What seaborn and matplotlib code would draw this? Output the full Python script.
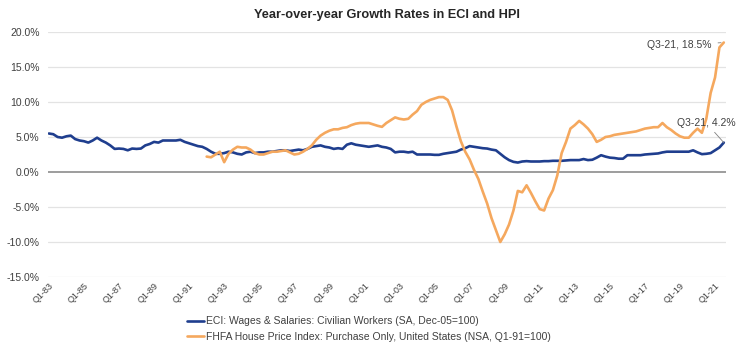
import numpy as np
import pandas as pd
import seaborn as sns
import matplotlib.pyplot as plt

# quarterly labels Q1-83 .. Q3-21
quarters = [f"Q{q}-{y % 100:02d}" for y in range(1983, 2022) for q in range(1, 5)][:155]

# ECI: Wages & Salaries, civilian workers, y/y % (Q1-83 .. Q3-21)
eci = [5.5, 5.4, 5.0, 4.9,  5.1, 5.2, 4.7, 4.5,  4.4, 4.2, 4.5, 4.9,
       4.5, 4.2, 3.8, 3.3,  3.35, 3.3, 3.1, 3.35,  3.3, 3.35, 3.8, 4.0,
       4.3, 4.2, 4.5, 4.5,  4.5, 4.5, 4.6, 4.3,  4.1, 3.9, 3.7, 3.6,
       3.3, 2.9, 2.6, 2.6,  2.7, 2.9, 2.8, 2.6,  2.5, 2.8, 2.9, 2.7,
       2.8, 2.8, 2.9, 2.9,  3.0, 3.1, 3.1, 3.0,  3.1, 3.2, 3.1, 3.3,
       3.6, 3.7, 3.8, 3.6,  3.5, 3.3, 3.4, 3.3,  3.9, 4.1, 3.9, 3.8,
       3.7, 3.6, 3.7, 3.8,  3.6, 3.5, 3.3, 2.8,  2.9, 2.9, 2.8, 2.9,
       2.5, 2.5, 2.5, 2.5,  2.45, 2.45, 2.6, 2.7,  2.8, 2.9, 3.2, 3.4,
       3.7, 3.6, 3.5, 3.4,  3.35, 3.2, 3.1, 2.6,  2.1, 1.7, 1.45, 1.35,
       1.5, 1.55, 1.5, 1.5,  1.5, 1.55, 1.55, 1.6,  1.6, 1.6, 1.65, 1.7,
       1.7, 1.7, 1.85, 1.7,  1.75, 2.05, 2.4, 2.2,  2.05, 2.0, 1.9, 1.9,
       2.4, 2.4, 2.4, 2.4,  2.5, 2.55, 2.6, 2.65,  2.8, 2.9, 2.9, 2.9,
       2.9, 2.9, 2.9, 3.1,  2.8, 2.55, 2.6, 2.7,  3.1, 3.5, 4.2]

# FHFA HPI purchase-only, y/y % (Q1-92 .. Q3-21)
hpi = [2.2, 2.1, 2.5, 2.9,  1.4, 2.6, 3.2, 3.6,  3.5, 3.5, 3.2, 2.7,
       2.5, 2.5, 2.7, 2.9,  2.9, 3.0, 3.1, 2.8,  2.5, 2.6, 2.9, 3.3,
       3.8, 4.6, 5.2, 5.6,  5.9, 6.1, 6.1, 6.3,  6.4, 6.7, 6.9, 7.0,
       7.0, 7.0, 6.8, 6.6,  6.45, 7.0, 7.4, 7.8,  7.6, 7.5, 7.6, 8.2,
       8.7, 9.6, 10.0, 10.3,  10.5, 10.7, 10.7, 10.3,  8.8, 6.5, 4.4, 2.9,
       1.8, 0.3, -1.0, -2.8,  -4.5, -6.6, -8.3, -10.0,  -8.9, -7.5, -5.5, -2.7,
       -2.9, -1.9, -3.0, -4.2,  -5.3, -5.5, -3.8, -2.6,  -0.5, 2.7, 4.3, 6.2,
       6.7, 7.3, 6.8, 6.2,  5.4, 4.3, 4.6, 5.0,  5.1, 5.3, 5.4, 5.5,
       5.6, 5.7, 5.8, 6.0,  6.2, 6.3, 6.4, 6.4,  7.0, 6.4, 6.0, 5.5,
       5.1, 4.9, 4.9, 5.6,  6.2, 5.6, 7.6, 11.3,  13.5, 17.8, 18.5]

eci_label = "ECI: Wages & Salaries: Civilian Workers (SA, Dec-05=100)"
hpi_label = "FHFA House Price Index: Purchase Only, United States (NSA, Q1-91=100)"

hpi_start = quarters.index("Q1-92")
df = pd.concat([
    pd.DataFrame({"pos": np.arange(len(eci)), "value": eci, "series": eci_label}),
    pd.DataFrame({"pos": np.arange(hpi_start, hpi_start + len(hpi)), "value": hpi, "series": hpi_label}),
])

sns.set_theme(style="white")
plt.rcParams['font.family'] = ['Liberation Sans', 'DejaVu Sans']

fig = plt.figure(figsize=(7.4, 3.51), dpi=100)
ax = fig.add_axes([48 / 740, 1 - 277 / 351, 678 / 740, 245 / 351])

sns.lineplot(data=df, x="pos", y="value", hue="series",
             palette={eci_label: "#1f3e8e", hpi_label: "#f5a85e"},
             linewidth=1.9, ax=ax)

ax.set_xlim(-0.2, 154.5)
ax.set_ylim(-15, 20)
yticks = np.arange(-15, 21, 5)
ax.set_yticks(yticks)
ax.set_yticklabels([f"{v:.1f}%" for v in yticks], fontsize=7.5, color="#404040")
xt = list(range(0, len(quarters), 8))
ax.set_xticks(xt)
ax.set_xticklabels([quarters[i] for i in xt], rotation=45, ha="right",
                   rotation_mode="anchor", fontsize=6.5, color="#404040")
ax.tick_params(axis="y", length=0, pad=6)
ax.tick_params(axis="x", length=0, pad=3)
ax.set_xlabel("")
ax.set_ylabel("")
for s in ax.spines.values():
    s.set_visible(False)
for v in yticks:
    if v != 0:
        ax.axhline(v, color="#e3e3e3", lw=0.9, zorder=0)
ax.axhline(0, color="#8c8c8c", lw=1.2, zorder=1)

ax.set_title("Year-over-year Growth Rates in ECI and HPI", fontsize=9.2,
             fontweight="bold", pad=10)

ax.annotate("Q3-21, 18.5%", xy=(154, hpi[-1]), xytext=(151.3, 18.1),
            ha="right", va="center", fontsize=7.5, color="#404040",
            arrowprops=dict(arrowstyle="-", color="#808080", lw=0.6))
ax.annotate("Q3-21, 4.2%", xy=(154, eci[-1]), xytext=(150.0, 7.0),
            ha="center", va="center", fontsize=7.5, color="#404040",
            annotation_clip=False,
            arrowprops=dict(arrowstyle="-", color="#808080", lw=0.6,
                            shrinkA=1, shrinkB=0))

leg = ax.legend(loc="upper left", bbox_to_anchor=(183 / 740, 1 - 312 / 351),
                bbox_transform=fig.transFigure, frameon=False, fontsize=7.5,
                handlelength=1.6, handletextpad=0.2, labelspacing=0.55,
                borderaxespad=0)
for t in leg.get_texts():
    t.set_color("#404040")

fig.savefig("out.png", dpi=100)
